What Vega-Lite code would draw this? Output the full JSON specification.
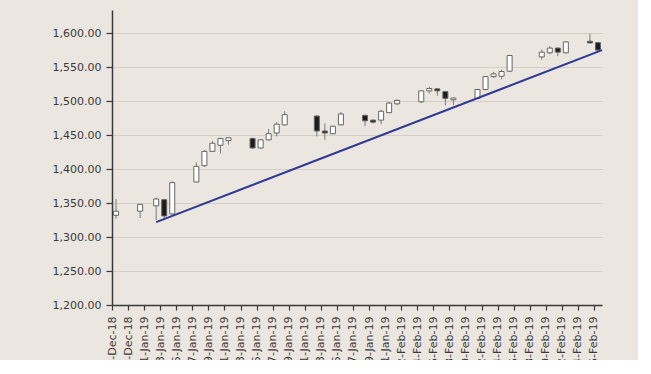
{
  "$schema": "https://vega.github.io/schema/vega-lite/v6.json",
  "width": 490,
  "height": 295,
  "autosize": {"type": "none"},
  "padding": {"left": 112, "top": 10, "right": 36, "bottom": 55},
  "background": "#ebe6df",
  "config": {
    "view": {"stroke": null},
    "font": "DejaVu Sans",
    "axis": {
      "labelFont": "DejaVu Sans",
      "labelFontSize": 11,
      "labelColor": "#3a3a3a",
      "domainColor": "#3a3a3a",
      "domainWidth": 1.5,
      "tickColor": "#3a3a3a",
      "tickWidth": 1.2,
      "title": null
    }
  },
  "datasets": {
    "candles": [
      {"date": "2018-12-28", "open": 1332, "high": 1356, "low": 1327, "close": 1338},
      {"date": "2018-12-31", "open": 1338, "high": 1349, "low": 1328, "close": 1348},
      {"date": "2019-01-02", "open": 1346, "high": 1358, "low": 1325, "close": 1356},
      {"date": "2019-01-03", "open": 1355, "high": 1356, "low": 1328, "close": 1331},
      {"date": "2019-01-04", "open": 1334, "high": 1382, "low": 1332, "close": 1380},
      {"date": "2019-01-07", "open": 1381, "high": 1410, "low": 1380, "close": 1404},
      {"date": "2019-01-08", "open": 1405, "high": 1428, "low": 1403, "close": 1426},
      {"date": "2019-01-09", "open": 1426, "high": 1441, "low": 1425, "close": 1438},
      {"date": "2019-01-10", "open": 1435, "high": 1446, "low": 1423, "close": 1445},
      {"date": "2019-01-11", "open": 1442, "high": 1447, "low": 1436, "close": 1446},
      {"date": "2019-01-14", "open": 1445, "high": 1446, "low": 1430, "close": 1431},
      {"date": "2019-01-15", "open": 1431, "high": 1444, "low": 1430, "close": 1443},
      {"date": "2019-01-16", "open": 1443, "high": 1459, "low": 1442, "close": 1452},
      {"date": "2019-01-17", "open": 1453, "high": 1469, "low": 1448, "close": 1466},
      {"date": "2019-01-18", "open": 1465, "high": 1485, "low": 1464, "close": 1480},
      {"date": "2019-01-22", "open": 1478, "high": 1479, "low": 1448, "close": 1456},
      {"date": "2019-01-23", "open": 1456, "high": 1467, "low": 1443, "close": 1453},
      {"date": "2019-01-24", "open": 1452, "high": 1464, "low": 1451, "close": 1463},
      {"date": "2019-01-25", "open": 1465, "high": 1484, "low": 1464, "close": 1481},
      {"date": "2019-01-28", "open": 1479, "high": 1480, "low": 1463, "close": 1471},
      {"date": "2019-01-29", "open": 1472, "high": 1473, "low": 1467, "close": 1469},
      {"date": "2019-01-30", "open": 1472, "high": 1487, "low": 1466, "close": 1485},
      {"date": "2019-01-31", "open": 1483, "high": 1499, "low": 1482, "close": 1497},
      {"date": "2019-02-01", "open": 1496, "high": 1503, "low": 1494, "close": 1501},
      {"date": "2019-02-04", "open": 1499, "high": 1516, "low": 1497, "close": 1515},
      {"date": "2019-02-05", "open": 1515, "high": 1521, "low": 1511, "close": 1518.5},
      {"date": "2019-02-06", "open": 1518, "high": 1519, "low": 1508, "close": 1515},
      {"date": "2019-02-07", "open": 1514, "high": 1515, "low": 1494, "close": 1504},
      {"date": "2019-02-08", "open": 1502, "high": 1505, "low": 1494, "close": 1504.5},
      {"date": "2019-02-11", "open": 1504, "high": 1518, "low": 1503, "close": 1517},
      {"date": "2019-02-12", "open": 1517, "high": 1537, "low": 1516, "close": 1536},
      {"date": "2019-02-13", "open": 1536, "high": 1543, "low": 1534, "close": 1540},
      {"date": "2019-02-14", "open": 1536.5, "high": 1546, "low": 1532, "close": 1543.5},
      {"date": "2019-02-15", "open": 1544, "high": 1568, "low": 1543, "close": 1567},
      {"date": "2019-02-19", "open": 1565, "high": 1576, "low": 1561, "close": 1572},
      {"date": "2019-02-20", "open": 1571, "high": 1581, "low": 1569, "close": 1578},
      {"date": "2019-02-21", "open": 1578, "high": 1579, "low": 1566, "close": 1572},
      {"date": "2019-02-22", "open": 1571, "high": 1588, "low": 1570, "close": 1587},
      {"date": "2019-02-25", "open": 1588, "high": 1599, "low": 1585, "close": 1585.5},
      {"date": "2019-02-26", "open": 1586, "high": 1587, "low": 1574, "close": 1575}
    ],
    "trend": [
      {"date": "2019-01-02T12:00:00Z", "value": 1322},
      {"date": "2019-02-27T00:00:00Z", "value": 1575}
    ]
  },
  "layer": [
    {
      "data": {"name": "candles"},
      "mark": {"type": "rule", "color": "#7a7a7a", "strokeWidth": 1},
      "encoding": {
        "x": {
          "field": "date", "type": "temporal", "timeUnit": "utcyearmonthdate", "bandPosition": 0.5,
          "scale": {
            "type": "utc",
            "domain": [
              {"year": 2018, "month": 12, "date": 28, "utc": true},
              {"year": 2019, "month": 2, "date": 27, "utc": true}
            ],
            "nice": false
          },
          "axis": {
            "values": [
              {"year": 2018, "month": 12, "date": 28, "utc": true},
              {"year": 2018, "month": 12, "date": 30, "utc": true},
              {"year": 2019, "month": 1, "date": 1, "utc": true},
              {"year": 2019, "month": 1, "date": 3, "utc": true},
              {"year": 2019, "month": 1, "date": 5, "utc": true},
              {"year": 2019, "month": 1, "date": 7, "utc": true},
              {"year": 2019, "month": 1, "date": 9, "utc": true},
              {"year": 2019, "month": 1, "date": 11, "utc": true},
              {"year": 2019, "month": 1, "date": 13, "utc": true},
              {"year": 2019, "month": 1, "date": 15, "utc": true},
              {"year": 2019, "month": 1, "date": 17, "utc": true},
              {"year": 2019, "month": 1, "date": 19, "utc": true},
              {"year": 2019, "month": 1, "date": 21, "utc": true},
              {"year": 2019, "month": 1, "date": 23, "utc": true},
              {"year": 2019, "month": 1, "date": 25, "utc": true},
              {"year": 2019, "month": 1, "date": 27, "utc": true},
              {"year": 2019, "month": 1, "date": 29, "utc": true},
              {"year": 2019, "month": 1, "date": 31, "utc": true},
              {"year": 2019, "month": 2, "date": 2, "utc": true},
              {"year": 2019, "month": 2, "date": 4, "utc": true},
              {"year": 2019, "month": 2, "date": 6, "utc": true},
              {"year": 2019, "month": 2, "date": 8, "utc": true},
              {"year": 2019, "month": 2, "date": 10, "utc": true},
              {"year": 2019, "month": 2, "date": 12, "utc": true},
              {"year": 2019, "month": 2, "date": 14, "utc": true},
              {"year": 2019, "month": 2, "date": 16, "utc": true},
              {"year": 2019, "month": 2, "date": 18, "utc": true},
              {"year": 2019, "month": 2, "date": 20, "utc": true},
              {"year": 2019, "month": 2, "date": 22, "utc": true},
              {"year": 2019, "month": 2, "date": 24, "utc": true},
              {"year": 2019, "month": 2, "date": 26, "utc": true}
            ],
            "labelExpr": "utcFormat(datum.value, '%-d-%b-%y')",
            "labelAngle": -90,
            "tickSize": 5,
            "labelPadding": 6,
            "grid": false,
            "labelOverlap": false,
            "labelBound": false,
            "labelFlush": false
          }
        },
        "y": {
          "field": "low", "type": "quantitative",
          "scale": {"domain": [1200, 1634], "nice": false, "zero": false},
          "axis": {
            "values": [1200, 1250, 1300, 1350, 1400, 1450, 1500, 1550, 1600],
            "format": ",.2f",
            "tickSize": 6,
            "labelPadding": 5,
            "labelOverlap": false,
            "grid": true,
            "gridColor": "#d4cec6",
            "gridWidth": 1
          }
        },
        "y2": {"field": "high"}
      }
    },
    {
      "data": {"name": "candles"},
      "mark": {"type": "bar", "width": 5, "stroke": "#666666", "strokeWidth": 1},
      "encoding": {
        "x": {
          "field": "date", "type": "temporal", "timeUnit": "utcyearmonthdate", "bandPosition": 0.5,
          "axis": {
            "values": [
              {"year": 2018, "month": 12, "date": 28, "utc": true},
              {"year": 2018, "month": 12, "date": 30, "utc": true},
              {"year": 2019, "month": 1, "date": 1, "utc": true},
              {"year": 2019, "month": 1, "date": 3, "utc": true},
              {"year": 2019, "month": 1, "date": 5, "utc": true},
              {"year": 2019, "month": 1, "date": 7, "utc": true},
              {"year": 2019, "month": 1, "date": 9, "utc": true},
              {"year": 2019, "month": 1, "date": 11, "utc": true},
              {"year": 2019, "month": 1, "date": 13, "utc": true},
              {"year": 2019, "month": 1, "date": 15, "utc": true},
              {"year": 2019, "month": 1, "date": 17, "utc": true},
              {"year": 2019, "month": 1, "date": 19, "utc": true},
              {"year": 2019, "month": 1, "date": 21, "utc": true},
              {"year": 2019, "month": 1, "date": 23, "utc": true},
              {"year": 2019, "month": 1, "date": 25, "utc": true},
              {"year": 2019, "month": 1, "date": 27, "utc": true},
              {"year": 2019, "month": 1, "date": 29, "utc": true},
              {"year": 2019, "month": 1, "date": 31, "utc": true},
              {"year": 2019, "month": 2, "date": 2, "utc": true},
              {"year": 2019, "month": 2, "date": 4, "utc": true},
              {"year": 2019, "month": 2, "date": 6, "utc": true},
              {"year": 2019, "month": 2, "date": 8, "utc": true},
              {"year": 2019, "month": 2, "date": 10, "utc": true},
              {"year": 2019, "month": 2, "date": 12, "utc": true},
              {"year": 2019, "month": 2, "date": 14, "utc": true},
              {"year": 2019, "month": 2, "date": 16, "utc": true},
              {"year": 2019, "month": 2, "date": 18, "utc": true},
              {"year": 2019, "month": 2, "date": 20, "utc": true},
              {"year": 2019, "month": 2, "date": 22, "utc": true},
              {"year": 2019, "month": 2, "date": 24, "utc": true},
              {"year": 2019, "month": 2, "date": 26, "utc": true}
            ],
            "labelExpr": "utcFormat(datum.value, '%-d-%b-%y')",
            "labelAngle": -90,
            "tickSize": 5,
            "labelPadding": 6,
            "grid": false,
            "labelOverlap": false,
            "labelBound": false,
            "labelFlush": false
          }
        },
        "y": {
          "field": "open", "type": "quantitative",
          "axis": {
            "values": [1200, 1250, 1300, 1350, 1400, 1450, 1500, 1550, 1600],
            "format": ",.2f",
            "tickSize": 6,
            "labelPadding": 5,
            "labelOverlap": false,
            "grid": true,
            "gridColor": "#d4cec6",
            "gridWidth": 1
          }
        },
        "y2": {"field": "close"},
        "fill": {
          "condition": {"test": "datum.close < datum.open", "value": "#1c1c1c"},
          "value": "#ffffff"
        }
      }
    },
    {
      "data": {"name": "trend"},
      "mark": {"type": "line", "color": "#2e3a94", "strokeWidth": 2},
      "encoding": {
        "x": {
          "field": "date", "type": "temporal", "scale": {"type": "utc"},
          "axis": {
            "values": [
              {"year": 2018, "month": 12, "date": 28, "utc": true},
              {"year": 2018, "month": 12, "date": 30, "utc": true},
              {"year": 2019, "month": 1, "date": 1, "utc": true},
              {"year": 2019, "month": 1, "date": 3, "utc": true},
              {"year": 2019, "month": 1, "date": 5, "utc": true},
              {"year": 2019, "month": 1, "date": 7, "utc": true},
              {"year": 2019, "month": 1, "date": 9, "utc": true},
              {"year": 2019, "month": 1, "date": 11, "utc": true},
              {"year": 2019, "month": 1, "date": 13, "utc": true},
              {"year": 2019, "month": 1, "date": 15, "utc": true},
              {"year": 2019, "month": 1, "date": 17, "utc": true},
              {"year": 2019, "month": 1, "date": 19, "utc": true},
              {"year": 2019, "month": 1, "date": 21, "utc": true},
              {"year": 2019, "month": 1, "date": 23, "utc": true},
              {"year": 2019, "month": 1, "date": 25, "utc": true},
              {"year": 2019, "month": 1, "date": 27, "utc": true},
              {"year": 2019, "month": 1, "date": 29, "utc": true},
              {"year": 2019, "month": 1, "date": 31, "utc": true},
              {"year": 2019, "month": 2, "date": 2, "utc": true},
              {"year": 2019, "month": 2, "date": 4, "utc": true},
              {"year": 2019, "month": 2, "date": 6, "utc": true},
              {"year": 2019, "month": 2, "date": 8, "utc": true},
              {"year": 2019, "month": 2, "date": 10, "utc": true},
              {"year": 2019, "month": 2, "date": 12, "utc": true},
              {"year": 2019, "month": 2, "date": 14, "utc": true},
              {"year": 2019, "month": 2, "date": 16, "utc": true},
              {"year": 2019, "month": 2, "date": 18, "utc": true},
              {"year": 2019, "month": 2, "date": 20, "utc": true},
              {"year": 2019, "month": 2, "date": 22, "utc": true},
              {"year": 2019, "month": 2, "date": 24, "utc": true},
              {"year": 2019, "month": 2, "date": 26, "utc": true}
            ],
            "labelExpr": "utcFormat(datum.value, '%-d-%b-%y')",
            "labelAngle": -90,
            "tickSize": 5,
            "labelPadding": 6,
            "grid": false,
            "labelOverlap": false,
            "labelBound": false,
            "labelFlush": false
          }
        },
        "y": {
          "field": "value", "type": "quantitative",
          "axis": {
            "values": [1200, 1250, 1300, 1350, 1400, 1450, 1500, 1550, 1600],
            "format": ",.2f",
            "tickSize": 6,
            "labelPadding": 5,
            "labelOverlap": false,
            "grid": true,
            "gridColor": "#d4cec6",
            "gridWidth": 1
          }
        }
      }
    }
  ]
}
